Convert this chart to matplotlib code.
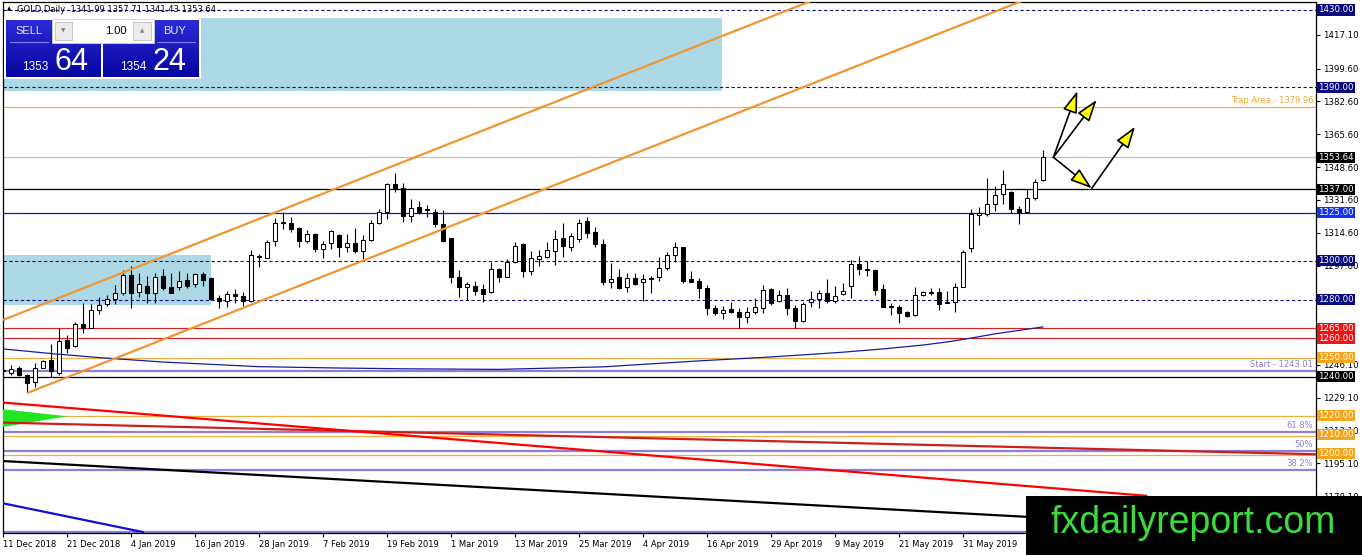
import numpy as np
import matplotlib.pyplot as plt
import matplotlib.transforms as mtransforms
from matplotlib.patches import Rectangle, Polygon, FancyArrowPatch
from matplotlib.colors import LinearSegmentedColormap

plt.rcParams['font.family'] = ['DejaVu Sans']

# ---- daily candles (bar index 0 = 11 Dec 2018) ----
opens = [1243.0, 1242.0, 1244.7, 1240.9, 1237.5, 1244.7, 1248.7, 1241.8, 1259.1, 1256.0,
         1267.2, 1265.4, 1274.5, 1277.7, 1280.5, 1283.6, 1292.7, 1284.1, 1287.0, 1283.3,
         1292.2, 1286.4, 1286.4, 1290.2, 1287.9, 1293.3, 1291.3, 1281.0, 1279.3, 1282.7,
         1281.7, 1279.3, 1302.0, 1301.7, 1310.4, 1319.8, 1319.8, 1317.2, 1310.5, 1314.0,
         1306.1, 1309.2, 1313.5, 1307.1, 1309.2, 1305.2, 1310.9, 1319.5, 1325.2, 1339.7,
         1337.7, 1323.3, 1327.8, 1326.8, 1325.5, 1319.0, 1311.8, 1291.9, 1286.4, 1287.2,
         1285.3, 1283.8, 1295.7, 1291.9, 1299.6, 1308.8, 1295.0, 1300.9, 1302.2, 1305.3,
         1311.8, 1307.4, 1311.2, 1320.7, 1314.9, 1308.8, 1289.3, 1291.6, 1286.4, 1291.0,
         1289.0, 1291.0, 1291.6, 1296.5, 1303.1, 1307.1, 1290.7, 1289.8, 1285.9, 1275.5,
         1272.9, 1275.0, 1273.7, 1271.1, 1273.7, 1275.5, 1285.5, 1279.0, 1282.4, 1275.5,
         1269.1, 1278.6, 1280.2, 1283.3, 1279.3, 1282.7, 1287.0, 1298.3, 1295.7, 1295.3,
         1285.3, 1276.7, 1276.3, 1273.4, 1272.0, 1282.4, 1283.8, 1284.1, 1278.9, 1278.6,
         1286.7, 1306.6, 1324.0, 1324.2, 1329.4, 1334.6, 1335.6, 1326.9, 1325.5, 1332.5,
         1341.99]
highs = [1248.0, 1246.0, 1245.8, 1241.5, 1247.0, 1248.7, 1257.0, 1265.4, 1261.7, 1268.6,
         1278.1, 1277.7, 1281.2, 1282.4, 1287.6, 1295.3, 1297.4, 1293.9, 1292.2, 1293.6,
         1295.7, 1293.6, 1294.8, 1293.9, 1293.9, 1294.1, 1291.9, 1282.4, 1284.5, 1285.3,
         1283.9, 1305.7, 1303.6, 1310.9, 1322.1, 1325.2, 1322.6, 1317.8, 1316.0, 1314.3,
         1310.4, 1316.0, 1314.0, 1314.0, 1316.9, 1313.5, 1321.2, 1326.8, 1340.6, 1345.4,
         1340.3, 1331.9, 1331.2, 1329.0, 1326.8, 1326.4, 1311.8, 1295.3, 1289.3, 1289.8,
         1288.1, 1299.6, 1296.2, 1300.9, 1310.0, 1309.2, 1305.2, 1305.7, 1310.0, 1316.0,
         1319.8, 1314.3, 1321.6, 1322.9, 1317.8, 1311.2, 1299.1, 1295.7, 1293.6, 1293.6,
         1293.1, 1292.2, 1302.2, 1304.8, 1309.7, 1307.4, 1294.8, 1291.0, 1287.6, 1277.2,
         1276.7, 1278.9, 1275.5, 1276.3, 1280.7, 1287.6, 1285.9, 1285.0, 1285.9, 1277.2,
         1278.9, 1284.6, 1285.0, 1290.5, 1287.0, 1288.8, 1300.5, 1302.6, 1300.2, 1295.7,
         1287.9, 1278.1, 1277.2, 1274.2, 1286.4, 1284.6, 1286.2, 1285.9, 1284.6, 1288.4,
         1305.7, 1326.8, 1328.1, 1342.8, 1338.9, 1347.1, 1336.3, 1328.5, 1337.1, 1342.3,
         1357.71]
lows = [1240.0, 1241.0, 1240.4, 1231.8, 1234.6, 1244.4, 1240.1, 1240.9, 1252.5, 1255.6,
        1262.9, 1265.2, 1272.5, 1276.7, 1277.6, 1282.4, 1275.5, 1281.5, 1278.1, 1278.4,
        1285.0, 1283.5, 1285.0, 1285.8, 1286.7, 1287.2, 1279.8, 1275.5, 1276.3, 1278.1,
        1276.7, 1278.8, 1296.7, 1301.4, 1307.9, 1316.6, 1314.9, 1307.4, 1309.2, 1304.8,
        1301.7, 1306.1, 1302.2, 1304.8, 1304.0, 1300.9, 1310.4, 1319.0, 1321.6, 1335.6,
        1320.0, 1320.4, 1324.2, 1322.6, 1317.8, 1310.0, 1288.8, 1281.5, 1279.8, 1282.4,
        1278.9, 1283.3, 1289.3, 1291.4, 1299.1, 1291.4, 1292.7, 1297.1, 1301.4, 1297.9,
        1302.2, 1305.3, 1309.7, 1311.8, 1307.4, 1287.6, 1285.9, 1285.3, 1284.1, 1287.6,
        1279.4, 1283.3, 1289.8, 1295.3, 1299.3, 1288.5, 1289.0, 1281.0, 1272.0, 1272.0,
        1269.8, 1272.9, 1265.1, 1267.7, 1272.5, 1273.2, 1277.2, 1278.6, 1272.0, 1265.1,
        1268.5, 1276.3, 1275.5, 1278.1, 1278.4, 1282.4, 1280.7, 1292.7, 1292.2, 1282.4,
        1276.0, 1272.0, 1268.0, 1271.1, 1271.5, 1282.0, 1282.4, 1274.6, 1278.0, 1273.7,
        1286.5, 1304.8, 1318.6, 1323.3, 1326.0, 1329.4, 1324.7, 1319.2, 1324.7, 1331.6,
        1341.43]
closes = [1243.5, 1244.0, 1240.8, 1236.9, 1244.4, 1248.0, 1242.7, 1258.6, 1254.8, 1267.2,
          1265.4, 1274.6, 1277.1, 1280.2, 1283.6, 1292.7, 1283.6, 1287.9, 1283.6, 1291.6,
          1286.2, 1283.6, 1289.8, 1287.2, 1293.1, 1290.2, 1280.3, 1279.3, 1282.7, 1281.7,
          1279.3, 1303.1, 1302.5, 1309.8, 1319.5, 1319.6, 1316.6, 1310.5, 1314.0, 1306.1,
          1308.8, 1315.5, 1307.1, 1309.2, 1305.3, 1310.9, 1319.5, 1325.2, 1339.7, 1337.7,
          1323.3, 1327.3, 1325.2, 1326.3, 1319.0, 1310.4, 1291.9, 1286.7, 1287.9, 1284.6,
          1282.7, 1295.7, 1291.9, 1299.6, 1307.9, 1295.0, 1301.4, 1302.6, 1305.7, 1311.2,
          1307.9, 1312.9, 1319.8, 1314.3, 1308.6, 1289.3, 1290.5, 1285.7, 1291.0, 1287.9,
          1290.5, 1290.5, 1296.5, 1303.1, 1307.1, 1289.8, 1289.3, 1285.9, 1275.5, 1272.9,
          1274.6, 1273.4, 1271.1, 1273.4, 1276.0, 1285.0, 1278.4, 1282.4, 1275.5, 1269.1,
          1277.6, 1280.2, 1283.3, 1279.3, 1282.0, 1284.6, 1298.3, 1295.7, 1295.3, 1285.0,
          1276.3, 1276.0, 1273.2, 1271.5, 1282.4, 1283.8, 1283.3, 1277.6, 1278.1, 1286.7,
          1304.5, 1324.2, 1324.6, 1329.4, 1334.2, 1339.7, 1326.8, 1325.5, 1332.5, 1341.1,
          1353.64]

date_bars = [0, 8, 16, 24, 32, 40, 48, 56, 64, 72, 80, 88, 96, 104, 112, 120]
date_labels = ['11 Dec 2018', '21 Dec 2018', '4 Jan 2019', '16 Jan 2019', '28 Jan 2019',
               '7 Feb 2019', '19 Feb 2019', '1 Mar 2019', '13 Mar 2019', '25 Mar 2019',
               '4 Apr 2019', '16 Apr 2019', '29 Apr 2019', '9 May 2019', '21 May 2019',
               '31 May 2019']
price_ticks = [1417.10, 1399.60, 1382.60, 1365.60, 1348.60, 1331.60, 1314.60, 1297.60,
               1246.10, 1229.10, 1212.10, 1195.10, 1178.10]

# horizontal levels with a price box on the scale
level_prices = [1430.00, 1390.00, 1353.64, 1337.00, 1325.00, 1300.00, 1280.00,
                1265.00, 1260.00, 1250.00, 1240.00, 1220.00, 1210.00, 1200.00]
level_kinds = ['navy', 'navy', 'last', 'black', 'blue', 'navy', 'navy',
               'red', 'red', 'orange', 'black', 'orange', 'orange', 'orange']
trap_area = 1379.96
start_level = 1243.01
fib_low = 1159.6
fib_ratios = [0.382, 0.5, 0.618]
fib_names = ['38.2%', '50%', '61.8%']

# moving average read at a few bars
ma_bars = [0, 6, 12, 20, 32, 42, 50, 62, 75, 87, 95, 100, 105, 110, 115, 118, 121, 124, 127, 130]
ma_values = [1254.4, 1252.0, 1249.9, 1247.6, 1245.2, 1244.5, 1244.1, 1243.8, 1245.1, 1248.2,
             1250.0, 1251.3, 1252.7, 1254.4, 1256.4, 1258.0, 1260.0, 1262.2, 1264.0, 1265.8]

# trend lines (bar, price) end points
channel_upper = ([0, 104], [1269.4, 1439.6])
channel_lower = ([3, 130], [1231.5, 1439.0])
red_line_a = ([0, 142.9], [1226.6, 1178.3])
red_line_b = ([0, 164.2], [1216.2, 1199.8])
black_line = ([0, 164.2], [1196.3, 1159.2])
blue_line = ([0, 17.5], [1174.4, 1159.5])
green_tri = [(-1, 1223.6), (-1, 1213.2), (8, 1219.5)]

# zones
zone_top = (-1, 89.9, 1388.0, 1425.9)
zone_left = (-1, 26.0, 1277.2, 1303.1)

# forecast arrows
arrow_start = (131.3, 1353.7)
arrow_tips = [(134.3, 1388.0), (136.7, 1383.4), (136.1, 1337.6)]
arrow_second = ((136.1, 1337.6), (141.5, 1369.5))

W, H = 1362, 555
fig = plt.figure(figsize=(W / 100, H / 100), dpi=100)
fig.patch.set_facecolor('white')
ax = fig.add_axes([3 / W, (H - 533) / H, 1313 / W, 531 / H])
px = 1 / 1.93
ax.set_xlim(0, 1313 / 8)
ax.set_ylim(1430 - 523 * px, 1430 + 8 * px)

navy = '#0c0c78'
orange_line = '#f0b040'
purple = '#8c7fd9'
box_cols = {'navy': '#0a0a80', 'last': '#000000', 'black': '#000000', 'blue': '#1434f0',
            'red': '#f01414', 'orange': '#f5a51c'}

# zones in background
for x0, x1, y0, y1 in [zone_top, zone_left]:
    ax.add_patch(Rectangle((x0, y0), x1 - x0, y1 - y0, fc='#add8e6', ec='none', zorder=0.5))

# horizontal levels
for p, k in zip(level_prices, level_kinds):
    if k == 'navy':
        ax.axhline(p, color=navy, lw=0.8, dashes=(3, 2.2), zorder=1)
    elif k == 'last':
        ax.axhline(p, color='#c0c0c0', lw=0.9, zorder=1)
    elif k == 'black':
        ax.axhline(p, color='black', lw=0.9, zorder=1)
    elif k == 'blue':
        ax.axhline(p, color='#1515b0', lw=0.9, zorder=1)
    elif k == 'red':
        ax.axhline(p, color='#e01c1c', lw=0.8, zorder=1)
    else:
        ax.axhline(p - 0.5, color=orange_line, lw=0.9, zorder=1)

ax.axhline(trap_area, color=orange_line, lw=0.9, zorder=1)
ax.axhline(start_level, color=purple, lw=1.6, zorder=1.1)
span = start_level - fib_low
ax.axhline(fib_low, color=purple, lw=1.6, zorder=1.1)
for r in fib_ratios:
    ax.axhline(fib_low + r * span, color=purple, lw=1.6, zorder=1.1)

# candles
x = np.arange(len(opens))
o = np.array(opens); c = np.array(closes)
ax.vlines(x, lows, highs, color='black', lw=0.8, zorder=2)
up = c >= o
body_lo = np.minimum(o, c)
body_h = np.maximum(np.abs(c - o), 0.35)
ax.bar(x[up], body_h[up], bottom=body_lo[up], width=0.62, color='white',
       edgecolor='black', linewidth=0.75, zorder=2.1)
ax.bar(x[~up], body_h[~up], bottom=body_lo[~up], width=0.62, color='black',
       edgecolor='black', linewidth=0.75, zorder=2.1)

# moving average
ax.plot(ma_bars, ma_values, color='#1a1aa0', lw=0.9, zorder=2.5)

# channel and trend lines
for xs, ys in [channel_upper, channel_lower]:
    ax.plot(xs, ys, color='#f29530', lw=1.6, zorder=3, solid_capstyle='butt')
ax.add_patch(Polygon(green_tri, closed=True, fc='#22e622', ec='none', zorder=2.9))
ax.plot(*red_line_b, color='#d01c1c', lw=1.6, zorder=3)
ax.plot(*red_line_a, color='#ff0000', lw=1.6, zorder=3.1)
ax.plot(*black_line, color='black', lw=1.6, zorder=3)
ax.plot(*blue_line, color='#1010d0', lw=1.6, zorder=3)

# arrows
arrow_kw = dict(arrowstyle='-|>,head_length=0.95,head_width=0.32', mutation_scale=14,
                fc='#ffff00', ec='black', lw=1.2, shrinkA=0, shrinkB=0, zorder=4)
for tip in arrow_tips:
    ax.add_patch(FancyArrowPatch(arrow_start, tip, **arrow_kw))
ax.add_patch(FancyArrowPatch(arrow_second[0], arrow_second[1], **arrow_kw))

# texts on the chart
bt = mtransforms.blended_transform_factory(ax.transAxes, ax.transData)
ax.text(0.998, trap_area + 1.0, 'Trap Area - 1379.96', transform=bt, ha='right',
        va='bottom', fontsize=6, color='#f0a838')
ax.text(0.998, start_level + 1.0, 'Start - 1243.01', transform=bt, ha='right',
        va='bottom', fontsize=6, color=purple)
for r, name in zip(fib_ratios, fib_names):
    ax.text(0.998, fib_low + r * span + 1.0, name, transform=bt, ha='right',
            va='bottom', fontsize=6, color=purple)

# price scale
ax.yaxis.tick_right()
ax.set_yticks(price_ticks)
ax.set_yticklabels(['%.2f' % v for v in price_ticks])
ax.tick_params(axis='y', length=3, width=0.8, labelsize=6.2, pad=2)
for p, k in zip(level_prices, level_kinds):
    ax.text(1.0016, p, '%.2f' % p, transform=bt, ha='left', va='center', fontsize=6.2,
            color='white', clip_on=False, zorder=10,
            bbox=dict(boxstyle='square,pad=0.12', fc=box_cols[k], ec='none'))

ax.set_xticks(date_bars)
ax.set_xticklabels(date_labels, ha='left')
ax.tick_params(axis='x', length=3, width=0.8, labelsize=6.0, pad=2)
for s in ax.spines.values():
    s.set_linewidth(0.9)

# overlay in pixel coordinates: trade panel, title, watermark
ov = fig.add_axes([0, 0, 1, 1])
ov.axis('off')

ov.add_patch(Rectangle((4, 18), 197, 61, fc='white', ec='none'))
grad = np.linspace(0, 1, 64).reshape(-1, 1)
cmap = LinearSegmentedColormap.from_list('panel', ['#2b2bd8', '#0606a0'])
ov.imshow(grad, extent=(6, 101, 77, 20), cmap=cmap, aspect='auto', zorder=2)
ov.imshow(grad, extent=(103, 199, 77, 20), cmap=cmap, aspect='auto', zorder=2)
ov.add_patch(Rectangle((101, 42), 2, 36, fc='white', ec='none', zorder=3))
ov.add_patch(Rectangle((51.5, 19), 102, 23.5, fc='white', ec='#d0d0d0', lw=0.6, zorder=3))
ov.add_patch(Rectangle((55, 22), 17, 18, fc='#ececec', ec='#c0c0c0', lw=0.6, zorder=4))
ov.add_patch(Rectangle((133, 22), 18, 18, fc='#ececec', ec='#c0c0c0', lw=0.6, zorder=4))
ov.text(63.5, 31, '▼', fontsize=4, color='#808080', ha='center', va='center', zorder=5)
ov.text(142, 31, '▲', fontsize=4, color='#808080', ha='center', va='center', zorder=5)
ov.text(127, 31, '1.00', fontsize=8, color='black', ha='right', va='center', zorder=5,
        family='Liberation Sans')
ov.plot([10, 48], [42, 42], color='#8080f0', lw=0.8, zorder=5)
ov.plot([157, 195], [42, 42], color='#8080f0', lw=0.8, zorder=5)
ov.text(29, 31, 'SELL', fontsize=8, color='#e8e8ff', ha='center', va='center', zorder=5,
        family='Liberation Sans')
ov.text(175, 31, 'BUY', fontsize=8, color='#e8e8ff', ha='center', va='center', zorder=5,
        family='Liberation Sans')
ov.text(22.5, 69.5, '1353', fontsize=8.5, color='white', ha='left', va='baseline', zorder=5,
        family='Liberation Sans')
ov.text(54, 69.5, '64', fontsize=22, color='white', ha='left', va='baseline', zorder=5,
        family='Liberation Sans')
ov.text(120.5, 69.5, '1354', fontsize=8.5, color='white', ha='left', va='baseline', zorder=5,
        family='Liberation Sans')
ov.text(152, 69.5, '24', fontsize=22, color='white', ha='left', va='baseline', zorder=5,
        family='Liberation Sans')

ov.text(7, 9, '▲', fontsize=4, color='black', ha='left', va='center', zorder=5)
ov.text(17, 9, 'GOLD,Daily  1341.99 1357.71 1341.43 1353.64', fontsize=6, color='black',
        ha='left', va='center', zorder=5)

ov.add_patch(Rectangle((1026, 496), 336, 59, fc='black', ec='none', zorder=6))
ov.text(1193, 523, 'fxdailyreport.com', fontsize=27, color='#3adb3a', ha='center',
        va='center', zorder=7, family='Liberation Sans')

ov.set_xlim(0, W)
ov.set_ylim(H, 0)

fig.savefig('out.png', dpi=100, facecolor='white')
